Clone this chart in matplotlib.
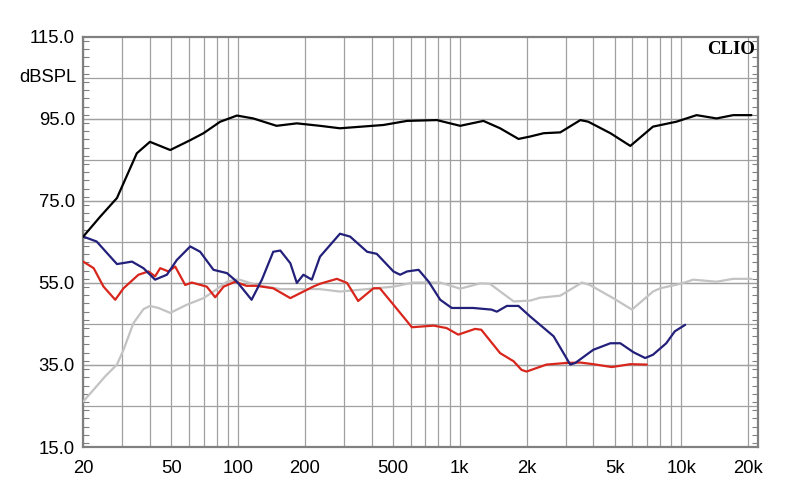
import matplotlib
matplotlib.use("Agg")
import matplotlib.pyplot as plt
from matplotlib.ticker import FixedLocator, MultipleLocator, NullFormatter

plt.rcParams['font.family'] = ['Liberation Sans', 'DejaVu Sans']

# on-axis response (black)
f_black = [20, 23.9, 28.4, 30.4, 34.9, 40, 49.4, 60.8, 69.8, 83, 98.8, 117, 149, 184,
           234, 288, 452, 578, 788, 1004, 1278, 1520, 1840, 2080, 2390, 2840, 3500,
           3800, 4780, 5880, 7440, 9480, 11700, 14400, 17100, 20700]
db_black = [66.3, 71.2, 75.7, 79.3, 86.6, 89.4, 87.4, 89.8, 91.5, 94.3, 95.8, 95.1, 93.3, 93.9,
            93.3, 92.7, 93.5, 94.5, 94.7, 93.3, 94.5, 92.7, 90.1, 90.7, 91.5, 91.7, 94.7,
            94.3, 91.5, 88.4, 93.1, 94.3, 95.9, 95.1, 95.9, 95.9]

# navy curve
f_blue = [20, 23, 25.6, 28.4, 33.2, 37.4, 42.2, 47.7, 52.9, 60.8, 67.4, 77.4, 89, 98.8,
          115, 128, 144, 155, 172, 184, 197, 215, 234, 288, 320, 382, 422, 502, 538, 578,
          652, 724, 816, 920, 1150, 1390, 1470, 1630, 1840, 2080, 2650, 3150, 3320, 4000,
          4780, 5300, 6080, 6860, 7440, 8540, 9330, 10400]
db_blue = [66.3, 65.1, 62.3, 59.6, 60.2, 58.6, 55.8, 57.0, 60.6, 63.9, 62.6, 58.2, 57.4, 55.3,
           50.9, 55.8, 62.6, 62.9, 59.8, 55.0, 57.0, 55.8, 61.4, 67.0, 66.3, 62.6, 62.1, 57.8,
           57.0, 57.8, 58.2, 55.3, 50.9, 48.9, 48.9, 48.5, 48.0, 49.4, 49.4, 46.8, 42.0, 35.1,
           35.5, 38.7, 40.3, 40.3, 38.1, 36.7, 37.5, 40.3, 43.2, 44.8]

# red curve
f_red = [20, 22.3, 24.7, 27.9, 30.4, 35.5, 39.4, 42.2, 44.5, 48.5, 52, 57.7, 61.8, 72.2,
         78.8, 86, 97, 109, 121, 144, 172, 218, 234, 279, 310, 348, 408, 436, 502, 608,
         762, 872, 984, 1172, 1250, 1520, 1750, 1900, 2000, 2460, 3030, 3500, 4000, 4850,
         5880, 6980]
db_red = [60.2, 58.6, 54.1, 50.9, 53.7, 57.0, 57.8, 56.6, 58.6, 57.8, 59.0, 54.5, 55.1, 54.1,
          51.5, 54.1, 55.3, 54.3, 54.3, 53.7, 51.3, 54.1, 54.8, 56.0, 55.0, 50.6, 53.7, 53.7,
          49.7, 44.2, 44.6, 44.0, 42.4, 43.8, 43.6, 37.9, 35.9, 33.8, 33.4, 35.1, 35.5, 35.6,
          35.2, 34.5, 35.2, 35.1]

# light gray curve
f_gray = [20, 22.3, 25.1, 28.4, 30.4, 33.7, 37.4, 40, 43.7, 49.4, 58.7, 69.8, 77.4, 89, 100,
          121, 155, 234, 288, 382, 502, 618, 816, 1004, 1238, 1366, 1750, 2080, 2300, 2840,
          3560, 3860, 4920, 5980, 7440, 8020, 9920, 11300, 14400, 17100, 20700]
db_gray = [26.1, 29.0, 32.2, 35.1, 38.7, 45.2, 48.6, 49.4, 48.9, 47.7, 49.7, 51.3, 52.9, 55.3,
           55.9, 54.5, 53.5, 53.5, 52.9, 53.5, 54.1, 55.1, 55.1, 53.6, 54.9, 54.8, 50.5, 50.7,
           51.4, 51.9, 55.1, 54.5, 51.3, 48.5, 52.9, 53.7, 54.8, 55.8, 55.3, 56.0, 56.0]

x_ticks = [20, 50, 100, 200, 500, 1000, 2000, 5000, 10000, 20000]
x_labels = ["20", "50", "100", "200", "500", "1k", "2k", "5k", "10k", "20k"]
y_ticks = [15, 35, 55, 75, 95, 115]

fig = plt.figure(figsize=(8, 5.04), dpi=100)
ax = fig.add_axes([0.104, 0.113, 0.8435, 0.814])

grid_c = "#a0a0a0"
line_kw = dict(lw=1.6, solid_joinstyle="round", solid_capstyle="round")
ax.plot(f_gray, db_gray, color="#c3c3c3", zorder=3, **line_kw)
ax.plot(f_red, db_red, color="#d8261c", zorder=4, **line_kw)
ax.plot(f_blue, db_blue, color="#22207a", zorder=5, **line_kw)
ax.plot(f_black, db_black, color="black", zorder=6, **line_kw)

ax.set_xscale("log")
ax.set_xlim(20, 22150)
ax.set_ylim(15, 115)

# vertical grid at every 1..9 multiple
vgrid = [m * d for d in (10, 100, 1000, 10000) for m in range(1, 10) if 20 <= m * d <= 20000]
for v in vgrid:
    ax.axvline(v, color=grid_c, lw=0.9, zorder=1)
for h in range(25, 115, 10):
    ax.axhline(h, color=grid_c, lw=0.9, zorder=1)
for h in y_ticks[1:-1]:
    ax.axhline(h, color=grid_c, lw=0.9, zorder=1)

ax.xaxis.set_major_locator(FixedLocator(x_ticks))
ax.set_xticklabels(x_labels)
ax.xaxis.set_minor_formatter(NullFormatter())
ax.xaxis.set_minor_locator(FixedLocator([]))
ax.tick_params(axis="x", which="both", length=0, pad=9, labelsize=13.3)

ax.set_yticks(y_ticks)
ax.set_yticklabels([f"{v:.1f}" for v in y_ticks])
ax.yaxis.set_minor_locator(MultipleLocator(2))
ax.tick_params(axis="y", which="major", length=0, pad=6, labelsize=13.3)
ax.tick_params(axis="y", which="minor", direction="in", length=4, width=0.8,
               color="#808080", left=True, right=True)

for s in ax.spines.values():
    s.set_color("#808080")
    s.set_linewidth(1.6)

fig.text(0.095, 1 - 77 / 504, "dBSPL", ha="right", va="center", fontsize=13.3)
ax.text(0.995, 0.99, "CLIO", transform=ax.transAxes, ha="right", va="top",
        fontsize=13.5, fontweight="bold", family="Liberation Serif", zorder=7)

fig.savefig("out.png", dpi=100)
